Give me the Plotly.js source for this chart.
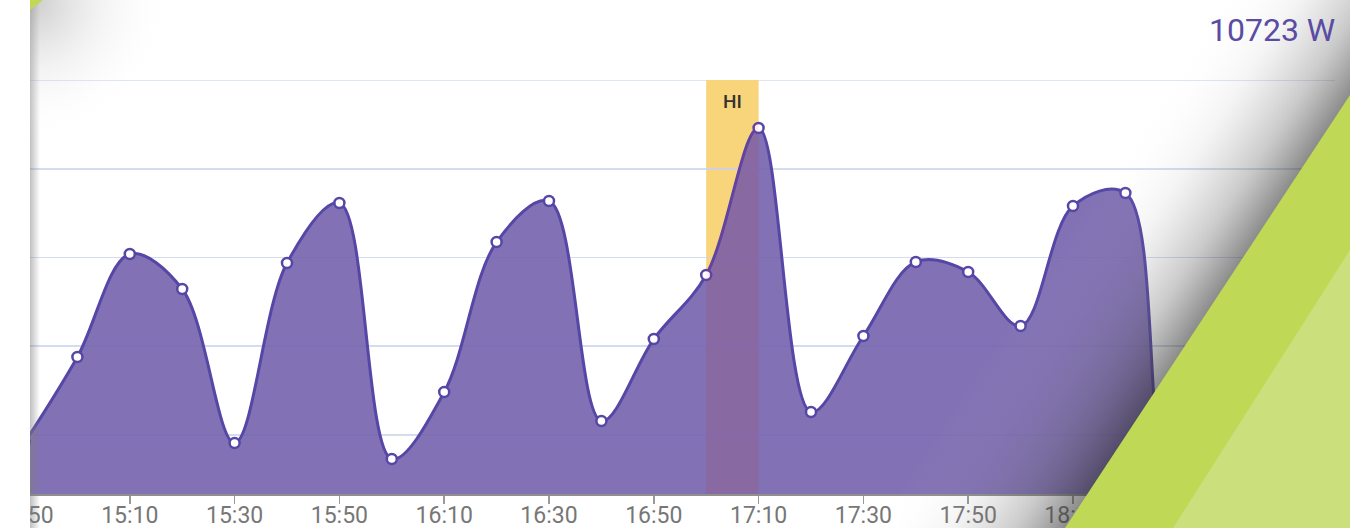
<!DOCTYPE html>
<html>
<head>
<meta charset="utf-8">
<script src="https://cdn.plot.ly/plotly-3.0.1.min.js"></script>
<style>
html,body{margin:0;padding:0;background:#fff;}
#chart{width:1350px;height:528px;}
</style>
</head>
<body>
<div id="chart"></div>
<script>
// ---- data ----
const times = ['14:50','15:00','15:10','15:20','15:30','15:40','15:50','16:00','16:10','16:20','16:30','16:40','16:50','17:00','17:10','17:20','17:30','17:40','17:50','18:00','18:10','18:20','18:30','18:40'];
const power = [1842,3758,6079,5290,1820,5876,7228,1459,2969,6349,7273,2316,4163,5606,8918,2518,4231,5899,5673,4456,7161,7454,0,0];
const hiStart = '17:00';
const hiEnd = '17:10';
const hiLabel = 'HI';
const currentLabel = '10723 W';
const gridTop = 10000;
const day = '2024-01-01 ';

const X = times.map(t => day + t);

// pixel -> paper helpers (plot area: x 25..1335, y 80..494)
const L = 25, R = 1335, T = 80, B = 494;
const px = x => (x - L) / (R - L);
const py = y => (B - y) / (B - T);
const path = pts => 'M' + pts.map(p => px(p[0]).toFixed(5) + ',' + py(p[1]).toFixed(5)).join(' L') + ' Z';

const trace = {
  x: X, y: power, type: 'scatter', mode: 'lines+markers',
  line: {shape: 'spline', smoothing: 1, color: '#5646a6', width: 3},
  marker: {size: 10, color: '#ffffff', line: {color: '#5646a6', width: 2.5}},
  fill: 'tozeroy', fillcolor: 'rgba(116,98,172,0.9)',
  hoverinfo: 'x+y'
};

const svg = `<svg xmlns='http://www.w3.org/2000/svg' width='1350' height='528' viewBox='0 0 1350 528'>
<defs>
<linearGradient id='l' x1='30' y1='0' x2='40' y2='0' gradientUnits='userSpaceOnUse'>
<stop offset='0' stop-color='#808080' stop-opacity='0.5'/><stop offset='1' stop-color='#808080' stop-opacity='0'/></linearGradient>
<radialGradient id='c' cx='30' cy='0' r='140' gradientUnits='userSpaceOnUse'>
<stop offset='0' stop-color='#a0a0a0' stop-opacity='0.55'/><stop offset='0.5' stop-color='#c0c0c0' stop-opacity='0.2'/><stop offset='1' stop-color='#ffffff' stop-opacity='0'/></radialGradient>
<linearGradient id='s' x1='1207' y1='311' x2='1073' y2='223' gradientUnits='userSpaceOnUse'>
<stop offset='0' stop-color='#303030' stop-opacity='0.55'/><stop offset='0.25' stop-color='#505050' stop-opacity='0.3'/><stop offset='0.6' stop-color='#808080' stop-opacity='0.08'/><stop offset='1' stop-color='#ffffff' stop-opacity='0'/></linearGradient>
</defs>
<rect x='30' y='0' width='10' height='528' fill='url(#l)'/>
<rect x='30' y='0' width='200' height='170' fill='url(#c)'/>
<rect x='900' y='0' width='450' height='528' fill='url(#s)'/>
</svg>`;

const layout = {
  width: 1350, height: 528,
  margin: {l: L, r: 1350 - R, t: T, b: 528 - B, pad: 0},
  paper_bgcolor: '#ffffff', plot_bgcolor: '#ffffff',
  showlegend: false,
  font: {family: 'Roboto, sans-serif'},
  xaxis: {
    type: 'date', range: [day + '14:50', day + '19:00'],
    tick0: day + '14:50', dtick: 20 * 60 * 1000, tickformat: '%H:%M',
    showgrid: false, zeroline: false,
    showline: true, linecolor: '#8f8f8f', linewidth: 2,
    ticks: 'outside', ticklen: 8, tickwidth: 1.5, tickcolor: '#9a9a9a',
    ticklabelstandoff: -9, ticklabeloverflow: 'allow',
    tickfont: {family: 'Roboto, sans-serif', size: 23, color: '#777777'}
  },
  yaxis: {
    range: [670, 10000], dtick: 2000, tick0: 0,
    showticklabels: false, zeroline: false, showline: false,
    gridcolor: '#d3ddef', gridwidth: 1.5
  },
  shapes: [
    {type: 'line', xref: 'paper', yref: 'y', x0: 0, x1: 1, y0: gridTop, y1: gridTop,
     line: {color: '#d3ddef', width: 1.5}, layer: 'below'},
    {type: 'rect', xref: 'x', yref: 'paper', x0: day + hiStart, x1: day + hiEnd, y0: 0, y1: 1,
     fillcolor: '#fae47c', line: {width: 0}, layer: 'below'},
    {type: 'rect', xref: 'x', yref: 'paper', x0: day + hiStart, x1: day + hiEnd, y0: 0, y1: 1,
     fillcolor: 'rgba(230,40,100,0.08)', line: {width: 0}, layer: 'above'},
    {type: 'rect', xref: 'paper', yref: 'paper', x0: px(-5), x1: px(30), y0: py(540), y1: py(-10),
     fillcolor: '#ffffff', line: {width: 0}, layer: 'above'},
    {type: 'path', xref: 'paper', yref: 'paper', path: path([[1350,95],[1065,528],[1360,528],[1360,95]]),
     fillcolor: '#bfd855', line: {width: 0}, layer: 'above'},
    {type: 'path', xref: 'paper', yref: 'paper', path: path([[1350,250],[1173,528],[1360,528],[1360,250]]),
     fillcolor: '#cbe07c', line: {width: 0}, layer: 'above'},
    {type: 'path', xref: 'paper', yref: 'paper', path: path([[30,0],[43,0],[30,10]]),
     fillcolor: '#bfd855', line: {width: 0}, layer: 'above'}
  ],
  images: [{
    source: 'data:image/svg+xml;utf8,' + encodeURIComponent(svg),
    xref: 'paper', yref: 'paper', x: px(0), y: py(0),
    sizex: 1350 / (R - L), sizey: 528 / (B - T),
    xanchor: 'left', yanchor: 'top', sizing: 'stretch', layer: 'above'
  }],
  annotations: [
    {text: hiLabel, xref: 'x', yref: 'paper', x: day + '17:05', y: py(101), yanchor: 'middle', showarrow: false,
     font: {family: 'Roboto, sans-serif', size: 19, color: '#333333', weight: 500}},
    {text: currentLabel, xref: 'paper', yref: 'paper', x: px(1337), y: py(30), xanchor: 'right', yanchor: 'middle',
     showarrow: false, font: {family: 'Roboto, sans-serif', size: 32, color: '#5a4ba3'}}
  ]
};

Plotly.newPlot('chart', [trace], layout, {displayModeBar: false, staticPlot: true});
</script>
</body>
</html>
